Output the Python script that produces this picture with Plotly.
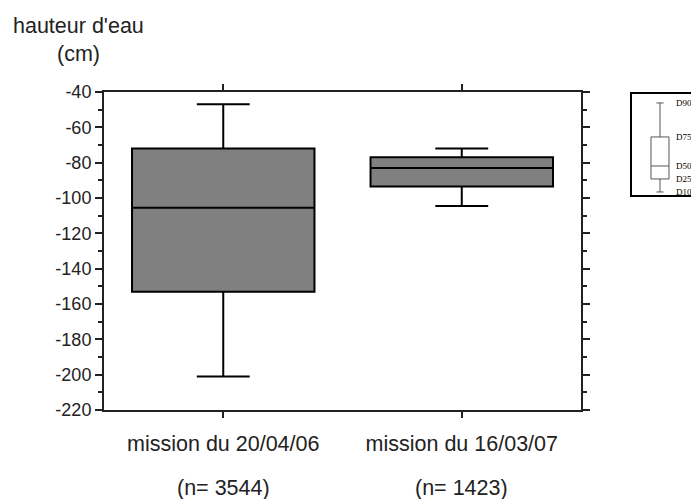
import plotly.graph_objects as go

# missions et effectifs
missions = ["mission du 20/04/06", "mission du 16/03/07"]
n_obs = [3544, 1423]

# déciles de la hauteur d'eau (cm)
d90 = [-47, -72]
d75 = [-72, -77]
d50 = [-105.5, -83]
d25 = [-153, -93.5]
d10 = [-201, -104.5]

# graduations de l'axe vertical (tiret simple comme sur l'original)
y_ticks = [-220, -200, -180, -160, -140, -120, -100, -80, -60, -40]
y_ticktext = [str(v) for v in y_ticks]

# clé de lecture (positions arbitraires dans la vignette)
key_labels = ["D10", "D25", "D50", "D75", "D90"]
key_pos = [4, 17, 30, 59, 93]

font_main = "Liberation Sans, Arial, sans-serif"
font_key = "Liberation Serif, Times New Roman, serif"
txt_color = '#222222'

fig = go.Figure()

fig.add_trace(go.Box(x=missions,
                     q1=d25,
                     median=d50,
                     q3=d75,
                     lowerfence=d10,
                     upperfence=d90,
                     boxpoints=False,
                     width=0.765,
                     whiskerwidth=0.29,
                     fillcolor='#808080',
                     line=dict(color='black', width=2),
                     hoverinfo='skip',
                     showlegend=False))

# vignette de légende
fig.add_trace(go.Box(x=[29],
                     q1=[key_pos[1]],
                     median=[key_pos[2]],
                     q3=[key_pos[3]],
                     lowerfence=[key_pos[0]],
                     upperfence=[key_pos[4]],
                     boxpoints=False,
                     width=18,
                     whiskerwidth=0.4,
                     fillcolor='white',
                     line=dict(color='#555555', width=1),
                     xaxis='x2',
                     yaxis='y2',
                     hoverinfo='skip',
                     showlegend=False))

annotations = []
for lab, pos in zip(key_labels, key_pos):
    annotations.append(dict(xref='x2', yref='y2', x=43, y=pos, text=lab,
                            xanchor='left', yanchor='middle', showarrow=False,
                            font=dict(family=font_key, size=9, color='black')))

for m, n in zip(missions, n_obs):
    annotations.append(dict(xref='x', yref='paper', x=m, y=-0.245,
                            text=f"(n= {n})", xanchor='center', yanchor='middle',
                            showarrow=False,
                            font=dict(family=font_main, size=21.5, color=txt_color)))

annotations.append(dict(xref='paper', yref='paper', x=-0.043, y=1.2075,
                        text="hauteur d'eau", xanchor='center', yanchor='middle',
                        showarrow=False,
                        font=dict(family=font_main, size=21.5, color=txt_color)))
annotations.append(dict(xref='paper', yref='paper', x=-0.043, y=1.1195,
                        text="(cm)", xanchor='center', yanchor='middle',
                        showarrow=False,
                        font=dict(family=font_main, size=21.5, color=txt_color)))

# la page ajoute 8 px de marge au corps : on réduit la figure d'autant
fig.update_layout(
    width=691,
    height=491,
    margin=dict(l=96, r=0, t=84, b=89),
    paper_bgcolor='white',
    plot_bgcolor='white',
    font=dict(family=font_main, color=txt_color),
    xaxis=dict(domain=[0, 0.8017],
               type='category',
               range=[-0.5, 1.5],
               showline=True,
               linecolor='#222222',
               linewidth=2,
               mirror='allticks',
               ticks='outside',
               ticklen=6,
               tickwidth=1.5,
               tickcolor='#222222',
               ticklabelstandoff=7,
               tickfont=dict(size=21.5),
               showgrid=False,
               zeroline=False),
    yaxis=dict(range=[-220, -40],
               tickmode='array',
               tickvals=y_ticks,
               ticktext=y_ticktext,
               showline=True,
               linecolor='#222222',
               linewidth=2,
               mirror='allticks',
               ticks='outside',
               ticklen=7,
               tickwidth=1.5,
               tickcolor='#222222',
               tickfont=dict(size=18),
               minor=dict(tick0=-220, dtick=10, ticks='outside', ticklen=4,
                          tickwidth=1.5, tickcolor='#222222'),
               showgrid=False,
               zeroline=False),
    xaxis2=dict(domain=[0.8857, 1], anchor='y2', range=[0, 68],
                visible=False),
    yaxis2=dict(domain=[0.673, 0.997], anchor='x2', range=[0, 103],
                visible=False),
    shapes=[dict(type='rect', xref='paper', yref='paper',
                 x0=0.8857, x1=1.05, y0=0.673, y1=0.997,
                 line=dict(color='black', width=2))],
    annotations=annotations,
)

fig.write_html("out.html")
